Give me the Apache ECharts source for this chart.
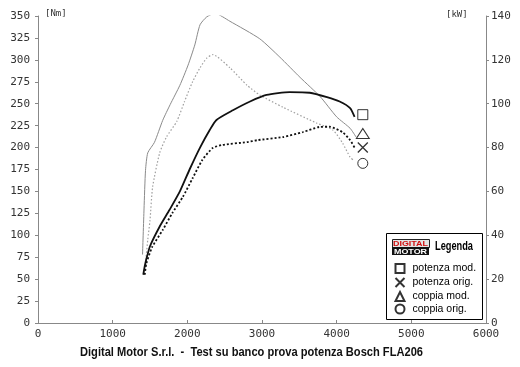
<!DOCTYPE html>
<html>
<head>
<meta charset="utf-8">
<script src="https://cdn.jsdelivr.net/npm/echarts@6/dist/echarts.min.js"></script>
<style>
html,body{margin:0;padding:0;background:#fff;}
#c{width:520px;height:367px;}
</style>
</head>
<body>
<div id="c"></div>
<script>
// ---- data ----
const xTicks = [0, 1000, 2000, 3000, 4000, 5000, 6000];
const nmTicks = [0, 25, 50, 75, 100, 125, 150, 175, 200, 225, 250, 275, 300, 325, 350];
const kwTicks = [0, 20, 40, 60, 80, 100, 120, 140];

const rpmCoppiaMod = [1400,1420,1440,1470,1560,1670,1770,1900,2010,2100,2170,2260,2370,2570,2970,3240,3510,3780,4000,4180,4260];
const coppiaMod    = [78,130,174,194,206,231,249,271,294,317,340,349,353,344,324,303,280,258,235,222,212];

const rpmCoppiaOrig = [1440,1470,1500,1535,1630,1720,1860,1960,2070,2170,2260,2340,2570,2800,2970,3280,3730,3950,4080,4180,4220];
const coppiaOrig    = [68,95,117,155,194,212,230,252,275,291,302,306,291,271,260,246,228,220,205,189,186];

const rpmPotMod = [1410,1430,1450,1500,1630,1760,1900,2030,2170,2300,2390,2610,2840,3060,3370,3640,3870,4040,4180,4240];
const potMod    = [22,26,29,35,44,51.5,60,70,80,88,92.6,97,101,104,105.3,105,103,101,98,94];

const rpmPotOrig = [1430,1450,1530,1670,1800,1940,2070,2200,2340,2470,2800,2940,3280,3550,3770,3900,4080,4180,4240];
const potOrig    = [22,27,34.7,42.4,50.2,57.5,66,74.3,79.8,81.2,82.5,83.4,84.8,87.1,89.4,89.5,87,83.4,80];

const markerRpm = 4350;
const markerPotMod = 95;
const markerPotOrig = 80;
const markerCoppiaMod = 216;
const markerCoppiaOrig = 182;

const legendNames = ['potenza mod.', 'potenza orig.', 'coppia mod.', 'coppia orig.'];
const titleText = 'Digital Motor S.r.l.  -  Test su banco prova potenza Bosch FLA206';

// ---- helpers ----
const zip = (xs, ys) => xs.map((x, i) => [x, ys[i]]);
const mctx = document.createElement('canvas').getContext('2d');
function fitScale(text, font, target) {
  mctx.font = font;
  return target / mctx.measureText(text).width;
}
const titleFont = 'bold 12px "Liberation Sans"';
const titleScale = fitScale(titleText, titleFont, 343);
const legFont = 'bold 12px "Liberation Sans"';
const legScale = fitScale('Legenda', legFont, 38);
const logoFont = 'bold 8px "Liberation Sans"';
const logoScale1 = fitScale('DIGITAL', logoFont, 35);
const logoScale2 = fitScale('MOTOR', logoFont, 33);

// ---- chart ----
const chart = echarts.init(document.getElementById('c'), null, {renderer: 'canvas'});
const axisFont = 'DejaVu Sans Mono';
const xPath = 'path://M0,0L10,10M10,0L0,10';
const markerStyle = {color: '#fff', borderColor: '#000', borderWidth: 1};

chart.setOption({
  animation: false,
  backgroundColor: '#fff',
  grid: {left: 38, right: 34, top: 16, bottom: 44},
  xAxis: {
    type: 'value', min: 0, max: 6000, interval: 1000,
    axisLine: {show: true, lineStyle: {color: '#888', width: 1}},
    axisTick: {show: true, inside: true, length: 3, lineStyle: {color: '#888'}},
    splitLine: {show: false},
    axisLabel: {color: '#333', fontFamily: axisFont, fontSize: 11, margin: 6,
      formatter: v => xTicks.includes(v) ? String(v) : ''}
  },
  yAxis: [{
    type: 'value', min: 0, max: 350, interval: 25, position: 'left',
    axisLine: {show: true, lineStyle: {color: '#888', width: 1}},
    axisTick: {show: true, length: 3, lineStyle: {color: '#888'}},
    splitLine: {show: false},
    axisLabel: {color: '#333', fontFamily: axisFont, fontSize: 11, margin: 8,
      formatter: v => nmTicks.includes(v) ? String(v) : ''}
  }, {
    type: 'value', min: 0, max: 140, interval: 20, position: 'right',
    axisLine: {show: true, lineStyle: {color: '#888', width: 1}},
    axisTick: {show: true, length: 3, lineStyle: {color: '#888'}},
    splitLine: {show: false},
    axisLabel: {color: '#333', fontFamily: axisFont, fontSize: 11, margin: 5,
      formatter: v => kwTicks.includes(v) ? String(v) : ''}
  }],
  legend: {
    orient: 'vertical', left: 393, top: 263, padding: 0,
    itemWidth: 9, itemHeight: 9, itemGap: 1.5,
    data: legendNames,
    textStyle: {fontFamily: 'Liberation Sans', fontSize: 10.5, color: '#000', padding: [0, 0, 0, 3]},
    selectedMode: false
  },
  graphic: [
    {type: 'rect', left: 386, top: 233, z: 0, shape: {width: 96, height: 86},
      style: {fill: '#fff', stroke: '#000', lineWidth: 1}},
    {type: 'rect', left: 392, top: 239, z: 1, shape: {width: 37, height: 8},
      style: {fill: '#e4e4e4', stroke: '#222', lineWidth: 1}},
    {type: 'rect', left: 392, top: 247, z: 1, shape: {width: 37, height: 8},
      style: {fill: '#111'}},
    {type: 'text', x: 410.5, y: 243.5, z: 2, scaleX: logoScale1,
      style: {text: 'DIGITAL', fill: '#d01010', font: logoFont, align: 'center', verticalAlign: 'middle'}},
    {type: 'text', x: 410.5, y: 251.5, z: 2, scaleX: logoScale2,
      style: {text: 'MOTOR', fill: '#fff', font: logoFont, align: 'center', verticalAlign: 'middle'}},
    {type: 'text', x: 435, y: 247, z: 2, scaleX: legScale,
      style: {text: 'Legenda', fill: '#000', font: legFont, align: 'left', verticalAlign: 'middle'}},
    {type: 'text', left: 45, top: 9,
      style: {text: '[Nm]', fill: '#333', font: '9px "DejaVu Sans Mono"'}},
    {type: 'text', left: 446, top: 10,
      style: {text: '[kW]', fill: '#333', font: '9px "DejaVu Sans Mono"'}},
    {type: 'text', x: 251.5, y: 353, scaleX: titleScale,
      style: {text: titleText, fill: '#111', font: titleFont, align: 'center', verticalAlign: 'middle'}}
  ],
  series: [
    {name: 'coppia mod. curva', type: 'line', yAxisIndex: 0, data: zip(rpmCoppiaMod, coppiaMod),
      showSymbol: false, smooth: 0.2, lineStyle: {color: '#8a8a8a', width: 1}},
    {name: 'coppia orig. curva', type: 'line', yAxisIndex: 0, data: zip(rpmCoppiaOrig, coppiaOrig),
      showSymbol: false, smooth: 0.2, lineStyle: {color: '#a0a0a0', width: 1.2, type: [1.5, 2]}},
    {name: 'potenza mod. curva', type: 'line', yAxisIndex: 1, data: zip(rpmPotMod, potMod),
      showSymbol: false, smooth: 0.2, lineStyle: {color: '#111', width: 1.8}},
    {name: 'potenza orig. curva', type: 'line', yAxisIndex: 1, data: zip(rpmPotOrig, potOrig),
      showSymbol: false, smooth: 0.2, lineStyle: {color: '#111', width: 1.8, type: [2, 2]}},
    {name: 'potenza mod.', type: 'scatter', yAxisIndex: 1, data: [[markerRpm, markerPotMod]],
      symbol: 'rect', symbolSize: 10, itemStyle: markerStyle},
    {name: 'potenza orig.', type: 'scatter', yAxisIndex: 1, data: [[markerRpm, markerPotOrig]],
      symbol: xPath, symbolSize: 10, itemStyle: {color: 'none', borderColor: '#000', borderWidth: 1.3}},
    {name: 'coppia mod.', type: 'scatter', yAxisIndex: 0, data: [[markerRpm, markerCoppiaMod]],
      symbol: 'triangle', symbolSize: [13, 10], itemStyle: markerStyle},
    {name: 'coppia orig.', type: 'scatter', yAxisIndex: 0, data: [[markerRpm, markerCoppiaOrig]],
      symbol: 'circle', symbolSize: 10, itemStyle: markerStyle}
  ]
});
</script>
</body>
</html>
